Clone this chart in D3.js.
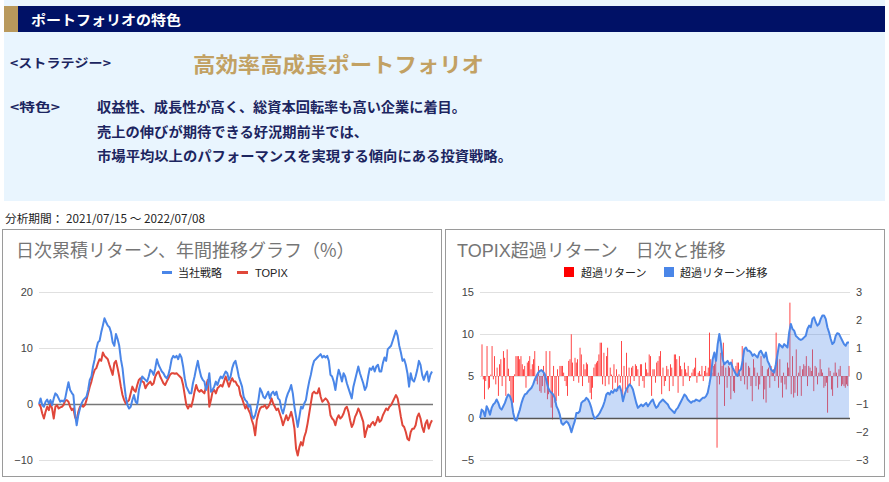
<!DOCTYPE html>
<html><head><meta charset="utf-8">
<script src="https://cdn.jsdelivr.net/npm/d3@7"></script>
<style>
body{margin:0;background:#fff;}
svg{display:block;}
</style></head>
<body>
<svg id="c" width="889" height="482"></svg>
<script>
// ---------- data ----------
const headerTitle = "ポートフォリオの特色";
const strategyLabel = "<ストラテジー>";
const strategyName = "高効率高成長ポートフォリオ";
const featureLabel = "<特色>";
const featureLines = [
  "収益性、成長性が高く、総資本回転率も高い企業に着目。",
  "売上の伸びが期待できる好況期前半では、",
  "市場平均以上のパフォーマンスを実現する傾向にある投資戦略。"
];
const periodText = "分析期間： 2021/07/15 ～ 2022/07/08";

const leftTitle = "日次累積リターン、年間推移グラフ（%）";
const leftSeriesNames = ["当社戦略", "TOPIX"];
const leftTicks = [-10, 0, 10, 20];

const rightTitle = "TOPIX超過リターン　日次と推移";
const rightSeriesNames = ["超過リターン", "超過リターン推移"];
const rightLeftTicks = [-5, 0, 5, 10, 15];
const rightRightTicks = [-3, -2, -1, 0, 1, 2, 3];

// cumulative return (%) of the strategy, daily
const strategy = [
0.0,1.0,-0.2,-0.5,0.4,0.8,0.1,0.7,-0.2,1.0,
1.9,1.6,1.0,0.4,0.6,0.4,1.0,2.5,3.9,2.5,
2.0,1.6,-1.7,-3.8,-2.0,-0.8,0.1,0.7,1.0,1.3,
2.5,4.3,4.9,6.7,8.0,9.8,11.0,11.3,12.8,14.0,
15.3,14.6,14.0,13.7,12.8,11.0,10.4,12.5,11.6,10.4,
8.0,6.4,3.7,1.3,-0.2,-0.8,-0.5,0.7,1.6,0.4,
0.1,2.5,3.7,4.9,4.6,4.3,4.0,4.9,6.1,5.8,
5.2,6.4,8.0,7.0,6.4,5.8,5.5,4.9,4.6,5.2,
6.4,8.0,8.6,8.3,8.6,8.0,8.9,8.3,6.7,4.6,
3.1,2.5,1.9,1.9,3.7,4.9,6.4,7.7,6.1,4.9,
4.3,4.0,2.5,3.4,5.5,2.2,2.5,3.1,4.0,3.4,
4.3,4.9,4.6,5.2,5.8,5.5,4.3,4.9,6.4,7.3,
7.7,
6.4,4.9,4.0,3.1,1.3,0.7,0.4,-0.5,-0.2,-2.0,
-2.6,-2.0,-0.8,0.7,2.8,2.2,1.3,1.0,1.6,2.2,
1.0,1.9,2.2,1.6,2.2,1.0,0.7,-0.8,-1.7,-0.5,
1.0,1.9,2.5,3.4,1.9,-0.5,-2.3,-4.1,-2.3,-0.5,
-0.8,0.1,0.7,2.5,4.0,5.2,6.7,7.7,8.0,8.3,
8.6,8.9,8.3,8.6,8.3,8.6,7.7,5.2,4.9,4.0,
2.5,4.6,6.1,5.2,4.0,5.5,4.9,3.7,2.8,1.9,
1.0,3.1,4.3,5.5,6.7,5.5,4.6,3.7,2.5,3.1,
4.9,6.4,6.1,6.7,5.8,6.7,7.0,5.8,5.8,7.3,
8.3,7.7,9.8,10.1,10.4,11.3,12.2,13.1,12.2,10.4,
9.2,7.7,8.0,7.0,5.5,3.1,5.5,4.3,4.0,4.9,
6.1,7.7,7.0,5.2,4.3,5.2,5.8,4.0,5.2,5.8
];
// cumulative return (%) of TOPIX, daily
const topix = [
0.0,-0.5,-1.7,-2.6,-1.4,-0.5,-1.1,0.1,-0.8,-2.6,
-0.5,-0.2,-0.8,-0.6,-0.5,-0.2,0.6,0.7,0.4,-0.5,
-1.1,-0.8,-2.3,-3.0,-1.4,-0.5,-0.2,-0.5,-0.2,0.7,
1.9,3.1,4.0,5.2,6.1,6.4,7.3,8.0,7.7,9.2,
8.6,8.3,8.0,7.0,6.1,5.2,7.3,7.7,6.4,4.9,
3.1,1.6,0.7,0.1,0.4,0.7,1.9,3.1,2.5,2.2,
3.4,4.3,4.6,4.0,3.9,2.8,3.4,3.7,4.0,3.4,
3.7,4.9,5.5,5.8,4.9,4.3,3.7,3.4,4.0,4.6,
5.2,5.5,5.5,5.4,5.5,5.2,4.9,4.6,3.4,1.6,
-0.2,-0.8,-0.2,-0.5,0.7,2.2,3.4,2.5,2.2,2.5,
2.2,1.9,3.1,4.3,-0.5,0.7,2.2,2.5,1.9,2.8,
3.1,3.4,3.1,4.0,4.9,4.0,3.1,4.0,4.6,4.0,
4.0,
3.4,3.1,1.6,1.0,0.1,-0.8,-0.2,-1.1,-1.7,-2.9,
-3.8,-5.6,-2.9,-1.7,-0.8,-0.5,-0.5,-0.2,-0.8,-0.5,
0.1,1.0,0.1,-0.5,-1.1,-0.8,-1.7,-2.6,-3.8,-2.9,
-2.0,-2.9,-2.3,-1.4,-2.6,-4.4,-8.0,-9.2,-7.7,-6.8,
-7.4,-5.9,-5.0,-3.5,-1.7,0.1,1.9,2.2,1.9,1.9,
2.8,1.3,0.4,0.7,1.0,0.7,0.1,-2.0,-2.6,-2.9,
-3.8,-2.6,-2.0,-2.6,-2.3,-1.7,-0.8,-0.5,-1.4,-2.9,
-4.1,-3.5,-2.3,-1.7,-0.8,-1.4,-2.3,-3.2,-5.9,-4.7,
-3.8,-4.1,-3.5,-3.2,-3.8,-3.2,-2.3,-3.2,-2.9,-2.0,
-1.4,-0.8,-1.1,-0.5,-0.2,0.4,1.0,1.6,1.0,-0.5,
-2.3,-3.8,-4.1,-5.0,-6.2,-6.5,-5.0,-4.4,-4.4,-3.8,
-2.3,-1.7,-2.6,-4.1,-5.0,-3.5,-2.9,-4.4,-3.5,-2.9
];
// cumulative excess return over TOPIX (left axis of right chart)
const excessCum = [
0.0,1.0,0.8,0.2,1.4,1.0,0.4,1.2,1.6,1.8,
2.2,1.8,1.2,1.0,1.4,1.8,2.4,2.8,2.6,2.0,
0.6,-0.2,-0.3,0.4,1.0,1.8,2.4,2.8,2.9,3.2,
3.4,3.6,4.0,4.6,5.0,5.4,5.6,5.7,5.5,5.2,
4.4,3.6,3.2,3.0,2.8,2.4,1.4,1.0,0.4,-0.6,
-0.8,-0.6,-0.4,-0.6,-1.0,-1.7,-1.0,-0.4,0.6,0.6,
0.8,1.8,2.0,2.1,2.4,2.2,1.8,1.2,0.4,-0.1,
0.1,0.3,0.6,1.0,1.4,
2.0,2.8,3.0,2.8,3.2,3.0,3.4,3.2,3.6,3.8,
3.2,2.0,2.8,3.4,3.7,4.0,3.8,3.4,2.6,1.8,
1.2,1.4,1.6,1.4,1.6,1.8,1.4,1.7,2.0,2.2,
1.6,1.2,1.4,1.8,2.0,2.2,2.0,1.8,1.6,1.2,
1.0,0.8,0.6,1.0,1.2,1.6,2.0,2.4,2.8,2.6,
2.2,2.0,1.8,2.0,2.0,2.2,2.1,2.0,2.2,2.4,
2.4,2.6,3.0,4.0,5.2,7.0,7.8,6.8,8.8,10.0,
8.8,7.0,6.4,6.6,6.8,
6.4,6.6,6.0,5.6,5.2,5.0,5.6,5.8,6.8,8.2,
8.4,8.0,8.0,7.8,7.4,7.6,7.4,7.2,7.8,8.0,
7.6,7.2,7.8,6.8,6.4,5.8,5.6,5.4,6.4,7.6,
8.8,8.6,8.4,8.8,8.6,8.4,10.2,11.2,10.6,10.4,
9.8,9.6,9.4,9.3,9.4,9.6,9.8,10.6,11.0,10.8,
11.8,12.0,11.4,11.0,11.2,11.8,12.2,12.2,11.8,10.8,
10.2,9.4,8.8,9.0,9.8,10.1,10.0,9.6,9.2,8.8,
8.6,9.0,9.0
];
// daily excess return (right axis of right chart)
const excessDaily = [
1.13,-0.12,-0.83,-0.18,1.07,-0.48,-0.42,0.05,1.07,-0.12,
0.71,-0.30,0.30,-0.71,0.42,0.60,-0.36,0.89,0.65,-0.71,
0.95,0.26,-0.18,-0.83,-1.13,-0.95,0.06,0.71,0.71,0.71,
0.60,0.71,0.42,0.24,0.36,-0.42,0.48,0.54,0.71,0.24,
0.42,0.60,0.89,-0.18,-0.30,0.36,-0.54,-0.60,-0.36,0.36,
-0.60,0.89,-0.83,-0.65,0.89,-1.13,-1.55,0.36,-0.95,-0.89,
0.24,-0.71,0.36,0.36,0.36,0.12,-0.18,-0.36,-0.71,0.54,
0.60,1.49,0.48,-0.18,0.65,0.48,0.60,-0.24,1.01,0.77,
-0.36,0.42,0.24,0.48,0.42,-0.24,-0.60,-0.83,-0.42,0.30,
0.42,0.48,0.54,0.77,1.19,1.19,-0.30,0.83,-0.36,0.71,
1.01,-0.30,0.30,0.05,-0.48,0.42,-0.24,0.24,-0.54,0.06,
-0.24,1.25,-0.77,0.36,-0.48,0.83,-0.60,0.30,-0.30,0.30,
0.36,-0.18,0.42,0.36,0.24,-0.36,0.42,0.42,-0.18,-0.42,
0.48,0.24,0.12,0.77,0.71,-0.71,0.24,0.24,-0.24,0.48,
0.54,0.71,0.89,-0.65,0.30,-0.36,-0.18,0.36,0.24,-0.54,
0.42,0.30,-0.36,0.77,0.77,0.60,-0.60,0.71,0.36,0.24,
-0.36,0.48,0.24,0.12,0.36,-0.18,-0.06,0.12,0.24,0.30,
0.65,-0.24,0.12,0.18,0.05,0.36,-0.18,0.18,0.36,0.12,
0.30,1.55,0.60,0.12,0.36,0.42,0.71,-2.56,0.12,-0.30,
0.83,0.36,1.19,-1.07,0.30,-0.42,0.36,0.30,-0.83,0.60,
-0.54,-0.60,0.36,0.48,0.48,0.12,-0.18,1.07,0.71,-0.30,
0.48,-0.48,0.36,0.30,-0.36,-0.90,0.60,0.30,-0.36,0.12,
-0.48,-0.30,0.71,0.36,-0.83,-0.48,-0.95,0.24,0.30,-0.42,
0.36,0.12,0.24,-0.18,1.55,0.83,-0.42,0.60,-0.24,-0.77,
0.12,-0.30,-0.48,0.48,0.30,2.62,-0.65,0.71,-0.77,-0.60,
0.95,-0.71,0.12,0.36,-0.71,0.24,0.42,0.36,0.71,-0.36,
0.36,0.30,0.18,0.95,-0.54,0.36,0.30,-0.30,0.12,0.60,
0.24,0.12,-0.42,-0.36,-0.24,-1.31,0.30,0.18,-0.48,-0.71,
0.12,0.48,0.12,-0.42,0.24,0.36,-0.36,-0.30,-0.36,-0.42,
-0.30,-0.36,0.36
];

// ---------- drawing ----------
const svg = d3.select("#c");
const JP = "'Noto Sans CJK JP','Noto Sans',sans-serif";
const LAT = "'Liberation Sans',Arial,'Noto Sans CJK JP',sans-serif";
const GOLD = "#c2a163", TEXTNAVY = "#1c2560";
const BLUE = "#4a86e8", RED = "#e0473a";

// top panel
svg.append("rect").attr("x",4).attr("y",0).attr("width",881).attr("height",201).attr("fill","#e9f5fe");
svg.append("rect").attr("x",4).attr("y",6).attr("width",881).attr("height",26).attr("fill","#001166");
svg.append("rect").attr("x",4).attr("y",6).attr("width",14).attr("height",26).attr("fill","#b9995c");

function fitText(sel, w){ sel.attr("textLength", w).attr("lengthAdjust","spacingAndGlyphs"); return sel; }

fitText(svg.append("text").attr("x",31).attr("y",24.5).attr("fill","#fff")
  .attr("font-family",JP).attr("font-weight","bold").attr("font-size",14).text(headerTitle),150);
fitText(svg.append("text").attr("x",10).attr("y",68).attr("fill",TEXTNAVY)
  .attr("font-family",JP).attr("font-size",12.5).attr("font-weight","bold").text(strategyLabel),101);
fitText(svg.append("text").attr("x",193).attr("y",72).attr("fill",GOLD)
  .attr("font-family",JP).attr("font-weight","bold").attr("font-size",21).text(strategyName),291);
fitText(svg.append("text").attr("x",10).attr("y",112).attr("fill",TEXTNAVY)
  .attr("font-family",JP).attr("font-size",12.5).attr("font-weight","bold").text(featureLabel),50);
const lineW = [369, 271, 415];
featureLines.forEach((t,i)=>{
  fitText(svg.append("text").attr("x",97).attr("y",112 + i*24.5).attr("fill",TEXTNAVY)
    .attr("font-family",JP).attr("font-weight","bold").attr("font-size",13.5).text(t), lineW[i]);
});

fitText(svg.append("text").attr("x",5).attr("y",223).attr("fill","#222")
  .attr("font-family",JP).attr("font-size",11.5).text(periodText),200);

// ---------- left chart ----------
const L = svg.append("g");
L.append("rect").attr("x",2.5).attr("y",229.5).attr("width",439).attr("height",247)
  .attr("fill","#fff").attr("stroke","#9a9a9a").attr("stroke-width",1);
L.append("text").attr("x",16).attr("y",257).attr("fill","#757575")
  .attr("font-family",JP).attr("font-size",18).text(leftTitle);

const xL = d3.scaleLinear().domain([0, strategy.length-1]).range([39, 432]);
const yL = d3.scaleLinear().domain([-10, 20]).range([460, 292]);

const gl = L.append("g");
gl.selectAll("line.grid").data(leftTicks).join("line")
  .attr("x1",39).attr("x2",433).attr("y1",d=>Math.round(yL(d))+0.5).attr("y2",d=>Math.round(yL(d))+0.5)
  .attr("stroke",d=>d===0?"#777":"#e0e0e0").attr("stroke-width",d=>d===0?1.3:1);
const axL = d3.axisLeft(yL).tickValues(leftTicks).tickSize(0).tickPadding(0).tickFormat(d3.format("d"));
const axLg = L.append("g").attr("transform","translate(33,0)").call(axL);
axLg.select(".domain").remove();
axLg.selectAll("text").attr("font-family",LAT).attr("font-size",11).attr("fill","#444");

// legend
const legL = L.append("g").attr("font-family",JP).attr("font-size",11).attr("fill","#222");
legL.append("line").attr("x1",162).attr("x2",172).attr("y1",272.5).attr("y2",272.5).attr("stroke",BLUE).attr("stroke-width",3);
legL.append("text").attr("x",178).attr("y",276.5).text(leftSeriesNames[0]);
legL.append("line").attr("x1",237).attr("x2",248).attr("y1",272.5).attr("y2",272.5).attr("stroke",RED).attr("stroke-width",3);
legL.append("text").attr("x",255).attr("y",276.5).attr("font-family",LAT).text(leftSeriesNames[1]);

const lineL = d3.line().x((d,i)=>xL(i)).y(d=>yL(d));
L.append("path").datum(topix).attr("d",lineL).attr("fill","none").attr("stroke",RED).attr("stroke-width",2).attr("stroke-linejoin","round");
L.append("path").datum(strategy).attr("d",lineL).attr("fill","none").attr("stroke",BLUE).attr("stroke-width",2).attr("stroke-linejoin","round");

// ---------- right chart ----------
const R = svg.append("g");
R.append("rect").attr("x",445.5).attr("y",229.5).attr("width",439).attr("height",247)
  .attr("fill","#fff").attr("stroke","#9a9a9a").attr("stroke-width",1);
R.append("text").attr("x",457).attr("y",257).attr("fill","#757575")
  .attr("font-family",LAT).attr("font-size",18).text(rightTitle);

const xR = d3.scaleLinear().domain([0, excessCum.length-1]).range([480, 849]);
const xB = d3.scaleLinear().domain([0, excessDaily.length-1]).range([482, 849]);
const yRL = d3.scaleLinear().domain([-5, 15]).range([460, 292]);
const yRR = d3.scaleLinear().domain([-3, 3]).range([460, 292]);

R.selectAll("line.grid").data(rightLeftTicks.filter(d=>d!==0)).join("line")
  .attr("x1",480).attr("x2",850).attr("y1",d=>Math.round(yRL(d))+0.5).attr("y2",d=>Math.round(yRL(d))+0.5)
  .attr("stroke","#e0e0e0").attr("stroke-width",1);

const axRL = d3.axisLeft(yRL).tickValues(rightLeftTicks).tickSize(0).tickPadding(0).tickFormat(d3.format("d"));
const gRL = R.append("g").attr("transform","translate(474,0)").call(axRL);
gRL.select(".domain").remove();
gRL.selectAll("text").attr("font-family",LAT).attr("font-size",11).attr("fill","#444");
const axRR = d3.axisRight(yRR).tickValues(rightRightTicks).tickSize(0).tickPadding(0).tickFormat(d3.format("d"));
const gRR = R.append("g").attr("transform","translate(856,0)").call(axRR);
gRR.select(".domain").remove();
gRR.selectAll("text").attr("font-family",LAT).attr("font-size",11).attr("fill","#444");

// legend
const legR = R.append("g").attr("font-family",JP).attr("font-size",11).attr("fill","#222");
legR.append("rect").attr("x",564).attr("y",267).attr("width",10).attr("height",10).attr("fill","#ff0000");
legR.append("text").attr("x",581).attr("y",276.5).text(rightSeriesNames[0]);
legR.append("rect").attr("x",664).attr("y",267).attr("width",10).attr("height",10).attr("fill",BLUE);
legR.append("text").attr("x",680).attr("y",276.5).text(rightSeriesNames[1]);

// bars
R.append("g").selectAll("rect").data(excessDaily).join("rect")
  .attr("x",(d,i)=>xB(i)-0.4).attr("width",0.8)
  .attr("y",d=>Math.min(yRR(d), yRR(0))).attr("height",d=>Math.abs(yRR(d)-yRR(0)))
  .attr("fill","#ff1a1a");

// area + line
const areaR = d3.area().x((d,i)=>xR(i)).y0(yRL(0)).y1(d=>yRL(d));
R.append("path").datum(excessCum).attr("d",areaR).attr("fill",BLUE).attr("fill-opacity",0.3);
R.append("line").attr("x1",480).attr("x2",850).attr("y1",Math.round(yRL(0))+0.5).attr("y2",Math.round(yRL(0))+0.5)
  .attr("stroke","#555").attr("stroke-width",1.3);
R.append("path").datum(excessCum).attr("d",d3.line().x((d,i)=>xR(i)).y(d=>yRL(d)))
  .attr("fill","none").attr("stroke",BLUE).attr("stroke-width",2).attr("stroke-linejoin","round");
</script>
</body></html>
